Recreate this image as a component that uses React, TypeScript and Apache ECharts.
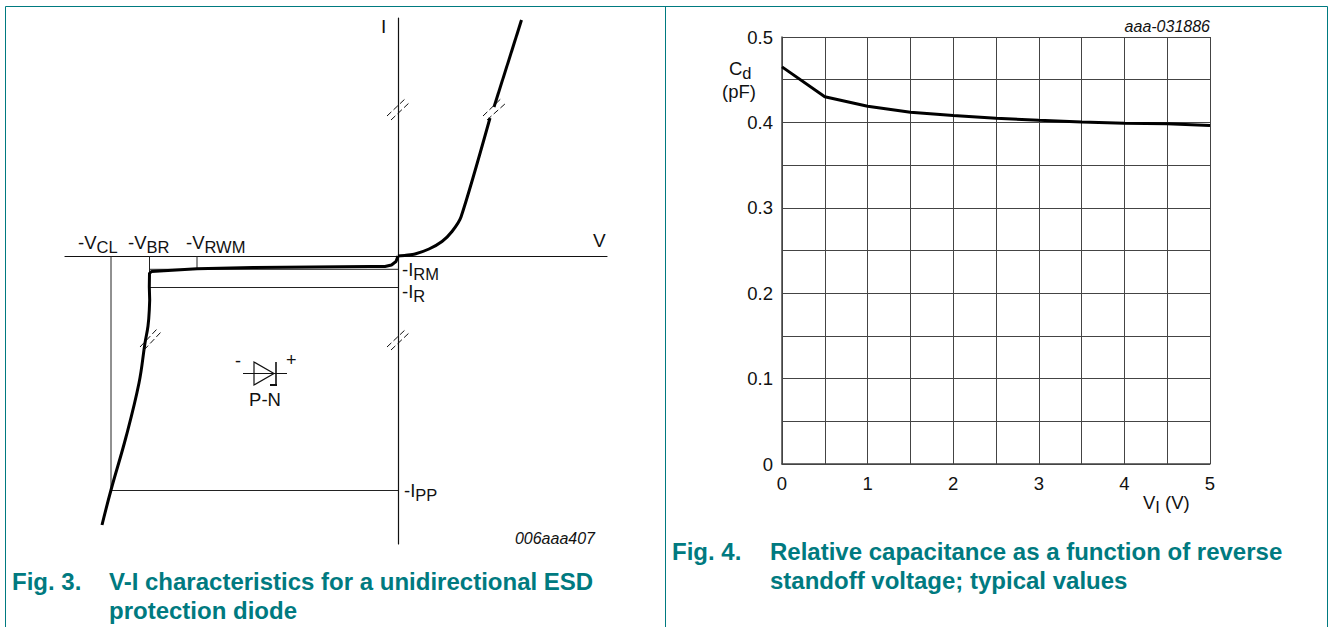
import React, { useEffect, useRef } from "react";
import * as echarts from "echarts";

const FONT = "Liberation Sans";
const TEAL = "#007a80";
const INK = "#111111";

// Left schematic: values are arbitrary V / I units, origin at the axes crossing
const forwardLow = [[0, 0], [8, 0.8], [17, 2], [31, 7], [44, 14.5], [54, 24.5], [63, 39], [92, 138]];
const forwardHigh = [[96, 149], [123.5, 236]];
const reverseKnee = [[0, 0], [-2, -5.5], [-6.5, -9], [-13, -10.5], [-28, -10.5], [-145, -11.5], [-201, -12.7], [-246.5, -15.5], [-248.5, -17.3], [-248.7, -30.7], [-248.3, -44], [-248.7, -54]];
const reverseTail = [[-248.7, -54], [-250, -70], [-253, -87], [-259, -127], [-272, -181], [-287, -234], [-296, -269]];
const markerVCL = [[-287, 0], [-287, -234.5]];
const markerVBR = [[-248.5, 0], [-248.5, -16]];
const markerVRWM = [[-201, 0], [-201, -12.7]];
const levelIRM = [[-248, -13.3], [0, -13.3]];
const levelIR = [[-248, -31.5], [0, -31.5]];
const levelIPP = [[-287, -234.5], [0, -234.5]];
const breaks = [
  [[-11, 140], [8, 158]],
  [[-7, 136], [12, 154]],
  [[-258, -91], [-241, -73]],
  [[-254, -94], [-237, -76]],
  [[-11, -91], [8, -73]],
  [[-7, -94], [12, -76]],
  [[85, 140], [103.7, 158]],
  [[89, 136], [108, 153]],
];

// Right chart
const capVoltage = [0, 0.5, 1, 1.5, 2, 2.5, 3, 3.5, 4, 4.5, 5];
const capValues = [0.465, 0.43, 0.419, 0.412, 0.408, 0.405, 0.4025, 0.4005, 0.399, 0.3985, 0.3965];

const thin = (data: number[][], width = 1) => ({
  type: "line", xAxisIndex: 0, yAxisIndex: 0, data, symbol: "none", silent: true,
  lineStyle: { color: "#222", width }, z: 2,
});
const thick = (data: number[][], smooth: number | boolean = false) => ({
  type: "line", xAxisIndex: 0, yAxisIndex: 0, data, symbol: "none", silent: true, smooth,
  lineStyle: { color: "#000", width: 3 }, z: 4,
});
const dash = (data: number[][]) => ({
  type: "line", xAxisIndex: 0, yAxisIndex: 0, data, symbol: "none", silent: true,
  lineStyle: { color: "#111", width: 1, type: [6, 3] }, z: 5,
});

const richSub = {
  m: { fontFamily: FONT, fontSize: 18.5, fill: INK, color: INK, padding: [0, 0, 4, 0] },
  s: { fontFamily: FONT, fontSize: 16.5, fill: INK, color: INK, padding: [6, 0, 0, 0] },
};
const sub = (x: number, y: number, text: string, align = "left") => ({
  type: "text", x, y, silent: true,
  style: { text, rich: richSub, align, verticalAlign: "middle", font: `18.5px ${FONT}`, fill: INK },
});
const plain = (x: number, y: number, text: string, fontSize = 18.5, align = "left", extra: any = {}) => ({
  type: "text", x, y, silent: true,
  style: { text, align, verticalAlign: "middle", fontFamily: FONT, fontSize, fill: INK, ...extra },
});
const caption = (x: number, y: number, text: string) => ({
  type: "text", x, y, silent: true,
  style: { text, align: "left", verticalAlign: "middle", fontFamily: FONT, fontSize: 24, fontWeight: "bold", fill: TEAL },
});
const frame = (x1: number, y1: number, x2: number, y2: number) => ({
  type: "line", silent: true, shape: { x1, y1, x2, y2 }, style: { stroke: TEAL, lineWidth: 1 },
});
const seg = (x1: number, y1: number, x2: number, y2: number, lineWidth = 1.2) => ({
  type: "line", silent: true, shape: { x1, y1, x2, y2 }, style: { stroke: "#111", lineWidth },
});

export default function App() {
  const ref = useRef<HTMLDivElement>(null);
  useEffect(() => {
    document.body.style.margin = "0";
    const chart = echarts.init(ref.current!, null, { renderer: "svg" });
    chart.setOption({
      animation: false,
      backgroundColor: "#ffffff",
      grid: [
        { left: 65, top: 18, width: 542, height: 526 },
        { left: 782, top: 37, width: 428, height: 427 },
      ],
      xAxis: [
        {
          gridIndex: 0, type: "value", min: -333, max: 209,
          axisLine: { show: true, onZero: true, lineStyle: { color: "#111", width: 1.2 } },
          axisTick: { show: false }, axisLabel: { show: false }, splitLine: { show: false },
        },
        {
          gridIndex: 1, type: "value", min: 0, max: 5, interval: 0.5,
          axisLine: { show: true, lineStyle: { color: "#444", width: 1.5 } },
          axisTick: { show: false },
          axisLabel: {
            fontFamily: FONT, fontSize: 18.5, color: INK, margin: 10,
            formatter: (v: number) => (Number.isInteger(v) ? String(v) : ""),
          },
          splitLine: { show: true, lineStyle: { color: "#444", width: 1 } },
        },
      ],
      yAxis: [
        {
          gridIndex: 0, type: "value", min: -288, max: 238,
          axisLine: { show: true, onZero: true, lineStyle: { color: "#111", width: 1.2 } },
          axisTick: { show: false }, axisLabel: { show: false }, splitLine: { show: false },
        },
        {
          gridIndex: 1, type: "value", min: 0, max: 0.5, interval: 0.05,
          axisLine: { show: true, lineStyle: { color: "#444", width: 1.5 } },
          axisTick: { show: false },
          axisLabel: {
            fontFamily: FONT, fontSize: 18.5, color: INK, margin: 9, padding: [0, 0, 2, 0],
            formatter: (v: number) => {
              const t = Math.round(v * 100);
              return t % 10 === 0 ? (t === 0 ? "0" : v.toFixed(1)) : "";
            },
          },
          splitLine: { show: true, lineStyle: { color: "#444", width: 1 } },
        },
      ],
      series: [
        thin(markerVCL), thin(markerVBR), thin(markerVRWM),
        thin(levelIRM), thin(levelIR), thin(levelIPP),
        thick(forwardLow, 0.25), thick(forwardHigh), thick(reverseKnee), thick(reverseTail, 0.4),
        ...breaks.map(dash),
        {
          type: "line", xAxisIndex: 1, yAxisIndex: 1, symbol: "none", silent: true, z: 4,
          data: capVoltage.map((v, i) => [v, capValues[i]]),
          lineStyle: { color: "#000", width: 3 },
        },
      ],
      graphic: [
        frame(5.5, 6.5, 1327.5, 6.5),
        frame(5.5, 6.5, 5.5, 627),
        frame(665.5, 6.5, 665.5, 627),
        frame(1327.5, 6.5, 1327.5, 627),
        // left labels
        plain(381, 26, "I", 19),
        plain(593, 240, "V", 19),
        sub(78, 244, "{m|-V}{s|CL}"),
        sub(128, 244, "{m|-V}{s|BR}"),
        sub(186, 244, "{m|-V}{s|RWM}"),
        sub(402, 271, "{m|-I}{s|RM}"),
        sub(402, 293, "{m|-I}{s|R}"),
        sub(404, 492, "{m|-I}{s|PP}"),
        plain(235, 361, "-", 18),
        plain(286, 360, "+", 18),
        plain(265, 399, "P-N", 18.5, "center"),
        plain(595, 538, "006aaa407", 16, "right", { fontStyle: "italic" }),
        // diode symbol
        { type: "polygon", silent: true, shape: { points: [[254, 362], [254, 385], [274, 373.5]] }, style: { fill: "none", stroke: "#111", lineWidth: 1.2 } },
        seg(243, 373.5, 287, 373.5),
        seg(276, 362, 276, 385, 1.6),
        seg(270, 385, 277, 385, 2),
        // right labels
        plain(1210, 26, "aaa-031886", 16, "right", { fontStyle: "italic" }),
        sub(729, 70, "{m|C}{s|d}"),
        plain(739, 91, "(pF)", 18.5, "center"),
        sub(1143, 504, "{m|V}{s|I}{m| (V)}"),
        // captions
        caption(12, 581, "Fig. 3."),
        caption(109, 581, "V-I characteristics for a unidirectional ESD"),
        caption(109, 610, "protection diode"),
        caption(672, 551, "Fig. 4."),
        caption(770, 551, "Relative capacitance as a function of reverse"),
        caption(770, 580, "standoff voltage; typical values"),
      ],
    });
    return () => chart.dispose();
  }, []);
  return <div ref={ref} style={{ position: "absolute", left: 0, top: 0, width: 1328, height: 627 }} />;
}
